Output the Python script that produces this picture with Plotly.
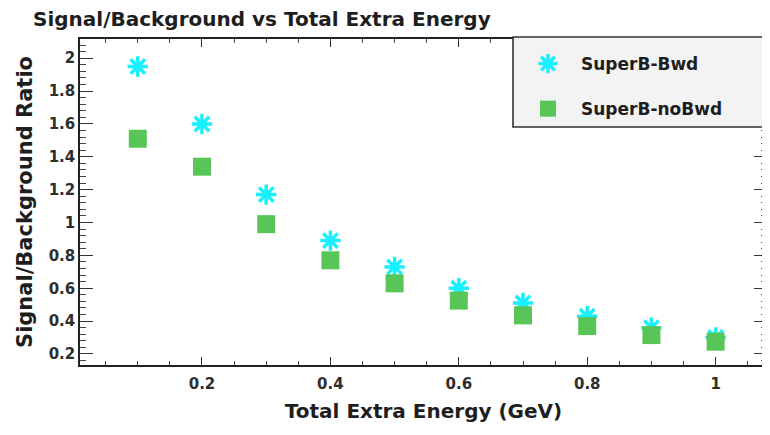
import plotly.graph_objects as go

# ---- data ----
energy = [0.1, 0.2, 0.3, 0.4, 0.5, 0.6, 0.7, 0.8, 0.9, 1.0]
superb_bwd = [1.95, 1.60, 1.17, 0.89, 0.73, 0.60, 0.51, 0.43, 0.36, 0.30]
superb_nobwd = [1.51, 1.34, 0.99, 0.77, 0.63, 0.525, 0.435, 0.37, 0.315, 0.275]
series_names = ["SuperB-Bwd", "SuperB-noBwd"]
x_tickvals = [0.2, 0.4, 0.6, 0.8, 1.0]
x_ticktext = ["0.2", "0.4", "0.6", "0.8", "1"]
y_tickvals = [0.2, 0.4, 0.6, 0.8, 1.0, 1.2, 1.4, 1.6, 1.8, 2.0]
y_ticktext = ["0.2", "0.4", "0.6", "0.8", "1", "1.2", "1.4", "1.6", "1.8", "2"]

# page is rendered with an 8px body margin -> shrink figure and shift
OFF = 8
W, H = 770 - OFF, 435 - OFF
ML, MR, MT, MB = 80 - OFF, 3, 39 - OFF, 70
pw = W - ML - MR
ph = H - MT - MB

FONT = "DejaVu Sans"
TXT = "#1e1e1e"

fig = go.Figure()
fig.add_trace(go.Scatter(
    x=energy, y=superb_bwd, mode="markers", name=series_names[0],
    legendgroup="a",
    marker=dict(symbol="asterisk-open", size=17, color="#19f0ff",
                line=dict(width=3.5, color="#19f0ff")),
))
fig.add_trace(go.Scatter(
    x=energy, y=superb_nobwd, mode="markers", name=series_names[1],
    legendgroup="b",
    marker=dict(symbol="square", size=18, color="#57c657",
                line=dict(width=0)),
))


def px_x(p):
    # page pixel -> paper fraction
    return (p - OFF - ML) / pw


def px_y(p):
    return (H - MB - (p - OFF)) / ph


# legend box (drawn over the frame corner)
fig.add_shape(type="rect", xref="paper", yref="paper", layer="above",
              x0=px_x(513), x1=px_x(780), y0=px_y(127), y1=px_y(37),
              fillcolor="#f3f3f3", line=dict(color="#333333", width=1.6))

axis_common = dict(
    showline=True, linecolor="#222222", linewidth=1.5, mirror="ticks",
    showgrid=False, zeroline=False, ticks="inside", tickcolor="#333333",
    tickfont=dict(family=FONT, size=15, color="#2e2e2e", weight="bold"),
)

fig.update_xaxes(
    range=[0.01, 1.08], tickvals=x_tickvals, ticktext=x_ticktext,
    ticklen=8, tickwidth=1.3, ticklabelstandoff=4,
    minor=dict(dtick=0.05, tick0=0, ticks="inside", ticklen=4,
               tickcolor="#444444", tickwidth=1),
    title=dict(text="Total Extra Energy (GeV)", standoff=12,
               font=dict(family=FONT, size=20, color=TXT, weight="bold")),
    **axis_common,
)
fig.update_yaxes(
    range=[0.133, 2.117], tickvals=y_tickvals, ticktext=y_ticktext,
    ticklen=13, tickwidth=1.3,
    minor=dict(dtick=0.04, tick0=0, ticks="inside", ticklen=6,
               tickcolor="#444444", tickwidth=1),
    title=dict(text="Signal/Background Ratio", standoff=10,
               font=dict(family=FONT, size=21, color=TXT, weight="bold")),
    **axis_common,
)

fig.update_layout(
    width=W, height=H,
    margin=dict(l=ML, r=MR, t=MT, b=MB, autoexpand=False),
    paper_bgcolor="white", plot_bgcolor="white",
    title=dict(text="Signal/Background vs Total Extra Energy",
               x=(33 - OFF) / W, xanchor="left", y=1 - (19 - OFF) / H,
               yanchor="middle",
               font=dict(family=FONT, size=20, color=TXT, weight="bold")),
    showlegend=True,
    legend=dict(x=px_x(515), y=px_y(46), xanchor="left", yanchor="top",
                bgcolor="rgba(0,0,0,0)", borderwidth=0,
                tracegroupgap=20, itemwidth=56,
                font=dict(family=FONT, size=17, color=TXT, weight="bold")),
)

fig.write_html("out.html")
